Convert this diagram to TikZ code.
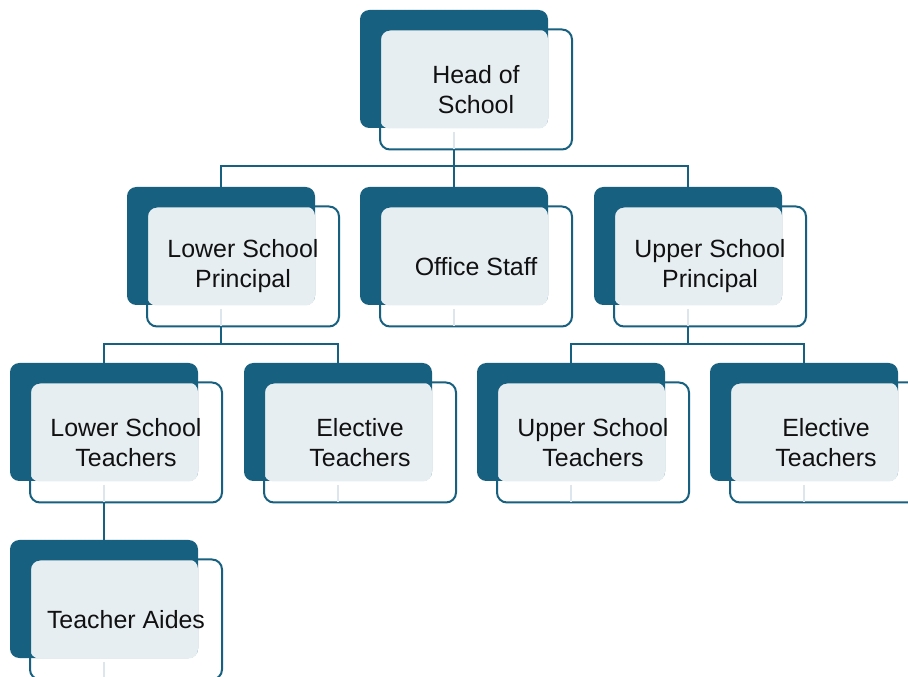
\documentclass[tikz,border=0pt]{standalone}
\usepackage{fontspec}
\setmainfont{Liberation Sans}
\definecolor{dkblue}{HTML}{17607F}
\definecolor{ltfill}{HTML}{E7EEF2}
\definecolor{ltline}{HTML}{DCE6EC}
\definecolor{txt}{HTML}{111111}
\tikzset{
  darkbox/.style={rectangle, rounded corners=7pt, fill=dkblue, draw=none,
    minimum width=141pt, minimum height=88.5pt, inner sep=0pt, outer sep=0pt, anchor=north west},
  lightbox/.style={rectangle, rounded corners=7pt, fill=ltfill, draw=none,
    minimum width=126pt, minimum height=74.25pt, inner sep=0pt, outer sep=0pt, anchor=north west},
  frontbox/.style={rectangle, rounded corners=7.5pt, draw=dkblue, line width=1.5pt,
    minimum width=144pt, minimum height=90pt, inner sep=0pt, outer sep=0pt, anchor=north west,
    align=center, text=txt, font=\fontsize{18.7pt}{22.5pt}\selectfont},
  conn/.style={draw=dkblue, line width=1.5pt},
  faint/.style={draw=ltline, line width=1.5pt},
}
\newcommand{\orgbox}[4]{%
  \node[darkbox] (#1D) at (#2,#3) {};
  \node[lightbox] (#1L) at (#2+20,#3+19.5) {};
  \node[frontbox] (#1) at (#2+20,#3+19.5) {#4};
  \draw[faint] ([yshift=-3pt]#1D.south) -- (#1D.south |- #1.south);
}
\begin{document}
\begin{tikzpicture}[x=0.75pt,y=-0.75pt]
\useasboundingbox (0,0) rectangle (908,677);
\clip (0,0) rectangle (908,677);
\fill[white] (0,0) rectangle (908,677);
\orgbox{head}{360}{10}{Head of\\School}
\orgbox{lsp}{127}{187}{Lower School\\Principal}
\orgbox{off}{360}{187}{Office Staff}
\orgbox{usp}{594}{187}{Upper School\\Principal}
\orgbox{lst}{10}{363}{Lower School\\Teachers}
\orgbox{elt}{244}{363}{Elective\\Teachers}
\orgbox{ust}{477}{363}{Upper School\\Teachers}
\orgbox{eut}{710}{363}{Elective\\Teachers}
\orgbox{aid}{10}{540}{Teacher Aides}
% connectors
\coordinate (j1) at (455,166);
\coordinate (j2) at (221,344);
\coordinate (j3) at (688,344);
\draw[conn] (headD.south |- head.south) -- (headD.south |- j1);
\draw[conn] (lspD.north) -- (lspD.north |- j1) -- (uspD.north |- j1) -- (uspD.north);
\draw[conn] (headD.south |- j1) -- (offD.north);
\draw[conn] (lspD.south |- lsp.south) -- (lspD.south |- j2);
\draw[conn] (lstD.north) -- (lstD.north |- j2) -- (eltD.north |- j2) -- (eltD.north);
\draw[conn] (uspD.south |- usp.south) -- (uspD.south |- j3);
\draw[conn] (ustD.north) -- (ustD.north |- j3) -- (eutD.north |- j3) -- (eutD.north);
\draw[conn] (lstD.south |- lst.south) -- (aidD.north);
\end{tikzpicture}
\end{document}
